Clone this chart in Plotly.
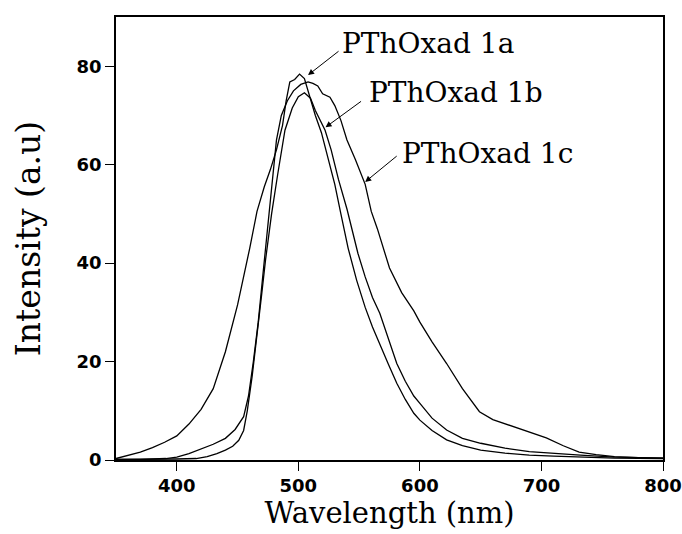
import plotly.graph_objects as go

# ---- data ----
wl_1a = [350, 360, 370, 380, 390, 400, 410, 420, 430, 440, 450, 460, 466, 472, 477, 482, 487, 490,
         493, 497, 501, 505, 509, 514, 519, 525, 530, 535, 541, 548, 555, 561, 567, 574, 581, 588,
         595, 600, 610, 622, 635, 650, 670, 690, 710, 730, 760, 800]
int_1a = [0.3, 0.9, 1.6, 2.5, 3.6, 4.9, 7.3, 10.3, 14.5, 22, 31.5, 43, 50.5, 55.5, 59, 63, 68, 73,
          76.8, 77.3, 78.4, 77.5, 74, 70, 66.5, 61, 56, 50, 43, 36.5, 31, 27, 23.7, 19.5, 15.6, 12.3,
          9.5, 8.1, 6.0, 4.1, 2.9, 2.0, 1.4, 1.0, 0.8, 0.6, 0.4, 0.3]

wl_1b = [350, 380, 400, 416, 425, 433, 440, 446, 451, 455, 458, 462, 466, 470, 473, 478, 483, 489,
         495, 500, 505, 510, 514, 518, 522, 527, 533, 540, 549, 555, 561, 567, 574, 581, 588, 595,
         600, 610, 622, 635, 650, 670, 690, 710, 732, 760, 800]
int_1b = [0.1, 0.1, 0.2, 0.3, 0.7, 1.3, 2.0, 2.8, 4.0, 6.0, 10, 17, 25, 34, 40.6, 50, 58, 67,
          71.5, 73.8, 74.6, 73.5, 71, 69, 67, 63, 57, 51, 42, 37.2, 33, 29.8, 24.5, 19.6, 16, 13,
          11.5, 8.5, 6.1, 4.4, 3.4, 2.4, 1.7, 1.3, 1.0, 0.6, 0.4]

wl_1c = [350, 370, 391, 400, 410, 420, 430, 440, 448, 455, 459, 463, 467, 471, 476, 482, 486, 491,
         496, 502, 508, 512, 516, 520, 526, 530, 535, 540, 547, 555, 560, 565, 575, 585, 595, 600,
         610, 622, 635, 649, 660, 677, 690, 704, 718, 731, 745, 760, 780, 800]
int_1c = [0.1, 0.1, 0.3, 0.6, 1.3, 2.2, 3.2, 4.4, 6.2, 8.8, 13, 20, 28, 38, 50, 65, 70, 73,
          75, 76.3, 76.8, 76.5, 76, 74.4, 73.7, 72, 69, 65, 61, 56, 50.5, 47, 39, 34, 30.3, 28,
          24, 19.6, 14.5, 9.8, 8.2, 6.8, 5.7, 4.5, 2.9, 1.6, 1.1, 0.7, 0.5, 0.4]

labels = ["PThOxad 1a", "PThOxad 1b", "PThOxad 1c"]
arrow_tips = [(508, 78.2), (522.4, 67.6), (555, 56.5)]      # data points the arrows touch
label_pos = [(534.5, 84.6), (556.5, 74.7), (583.5, 62.2)]   # left edge / middle of label text

x_ticks = [400, 500, 600, 700, 800]
y_ticks = [0, 20, 40, 60, 80]

fig = go.Figure()
for wl, it, name in [(wl_1a, int_1a, labels[0]), (wl_1b, int_1b, labels[1]), (wl_1c, int_1c, labels[2])]:
    fig.add_trace(go.Scatter(x=wl, y=it, mode="lines", name=name,
                             line=dict(color="black", width=1.3), showlegend=False))

serif = "DejaVu Serif"
annotations = []
arrow_offsets = [(32, -25), (37, -27), (33, -27)]
for (tx, ty), (ax, ay) in zip(arrow_tips, arrow_offsets):
    annotations.append(dict(x=tx, y=ty, xref="x", yref="y", ax=ax, ay=ay, text="",
                            showarrow=True, arrowhead=2, arrowsize=1.2, arrowwidth=1,
                            arrowcolor="black", standoff=0, startstandoff=0))
for (lx, ly), txt in zip(label_pos, labels):
    annotations.append(dict(x=lx, y=ly, xref="x", yref="y", text=txt, showarrow=False,
                            xanchor="left", yanchor="middle",
                            font=dict(family=serif, size=28, color="black")))

fig.update_layout(
    width=682, height=534,
    margin=dict(l=116, r=19, t=17, b=74),
    paper_bgcolor="white", plot_bgcolor="white",
    annotations=annotations,
)
fig.update_xaxes(range=[350, 800], tickvals=x_ticks, ticks="outside", ticklen=9, tickwidth=1.3,
                 tickcolor="black", showline=True, linecolor="black", linewidth=1.5, mirror=True,
                 showgrid=False, zeroline=False,
                 tickfont=dict(family="DejaVu Sans", size=18, color="black", weight="bold"),
                 title=dict(text="Wavelength (nm)", font=dict(family=serif, size=29, color="black"),
                            standoff=0),
                 automargin=False)
fig.update_yaxes(range=[0, 90], tickvals=y_ticks, ticks="outside", ticklen=9, tickwidth=1.3,
                 tickcolor="black", showline=True, linecolor="black", linewidth=1.5, mirror=True,
                 showgrid=False, zeroline=False,
                 tickfont=dict(family="DejaVu Sans", size=18, color="black", weight="bold"),
                 title=dict(text="Intensity (a.u)", font=dict(family=serif, size=33, color="black"),
                            standoff=26),
                 automargin=False)

fig.write_html("out.html", config={"displayModeBar": False},
               post_script="document.body.style.margin='0';document.body.style.padding='0';")
